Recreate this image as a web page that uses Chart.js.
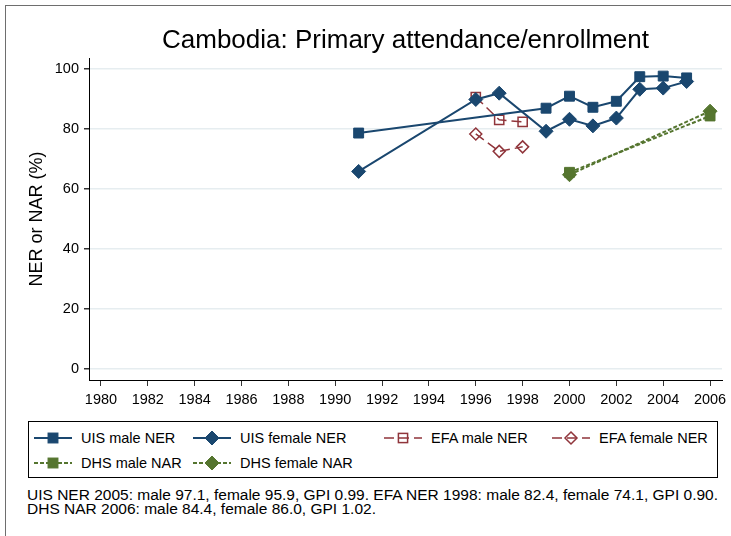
<!DOCTYPE html>
<html>
<head>
<meta charset="utf-8">
<script src="https://cdn.jsdelivr.net/npm/chart.js"></script>
<style>
  body { margin: 0; background: #fff; font-family: 'Liberation Sans', Arial, sans-serif; }
  #wrap { position: relative; width: 731px; height: 536px; overflow: hidden; background: #fff; }
  #frame { position: absolute; left: 5px; top: 5px; width: 800px; height: 600px;
           border-top: 1.5px solid #6e6e6e; border-left: 1.5px solid #6e6e6e; }
  #chart { position: absolute; left: 0; top: 0; }
  #legend { position: absolute; left: 28px; top: 421px; width: 688px; height: 55px; border: 1px solid #000; }
  .item { position: absolute; display: flex; align-items: center; font-size: 14.5px; color: #000; white-space: nowrap; }
  .item span { margin-left: 9px; }
  #note { position: absolute; left: 27px; top: 488px; font-size: 15.5px; line-height: 14px; color: #000; white-space: nowrap; }
</style>
</head>
<body>
<div id="wrap">
  <div id="frame"></div>
  <canvas id="chart" width="731" height="415"></canvas>
  <div id="legend"></div>
  <div id="note">UIS NER 2005: male 97.1, female 95.9, GPI 0.99. EFA NER 1998: male 82.4, female 74.1, GPI 0.90.<br>DHS NAR 2006: male 84.4, female 86.0, GPI 1.02.</div>
</div>
<script>
// values
const uisMaleYears = [1991, 1999, 2000, 2001, 2002, 2003, 2004, 2005];
const uisMale = [78.7, 87.0, 91.0, 87.3, 89.3, 97.5, 97.7, 97.1];
const uisFemaleYears = [1991, 1996, 1997, 1999, 2000, 2001, 2002, 2003, 2004, 2005];
const uisFemale = [65.9, 89.9, 92.0, 79.3, 83.3, 81.1, 83.7, 93.3, 93.7, 95.9];
const efaYears = [1996, 1997, 1998];
const efaMale = [90.7, 83.1, 82.4];
const efaFemale = [78.4, 72.6, 74.1];
const dhsYears = [2000, 2006];
const dhsMale = [65.6, 84.4];
const dhsFemale = [64.8, 86.0];

const xTicks = [1980, 1982, 1984, 1986, 1988, 1990, 1992, 1994, 1996, 1998, 2000, 2002, 2004, 2006];
const yTicks = [0, 20, 40, 60, 80, 100];

const navy = '#1a476f', maroon = '#90353b', green = '#55752f';
const none = 'rgba(255,255,255,0)';

Chart.defaults.font.family = "'Liberation Sans', Arial, sans-serif";
Chart.defaults.color = '#000';

const pts = (xs, ys) => xs.map((x, i) => ({ x: x, y: ys[i] }));

function series(label, xs, ys, color, style, opts) {
  return Object.assign({
    label: label,
    data: pts(xs, ys),
    borderColor: color,
    borderWidth: 2,
    borderDash: [],
    pointStyle: style,
    pointRadius: 7,
    pointBackgroundColor: color,
    pointBorderColor: color,
    pointBorderWidth: 1,
    tension: 0,
    fill: false
  }, opts || {});
}

const datasets = [
  series('UIS male NER', uisMaleYears, uisMale, navy, 'rect'),
  series('UIS female NER', uisFemaleYears, uisFemale, navy, 'rectRot', { pointRadius: 7 }),
  series('EFA male NER', efaYears, efaMale, maroon, 'rect',
    { borderWidth: 1.5, borderDash: [10, 5], pointBackgroundColor: none, pointBorderWidth: 1.5, pointRadius: 6.5 }),
  series('EFA female NER', efaYears, efaFemale, maroon, 'rectRot',
    { borderWidth: 1.5, borderDash: [10, 5], pointBackgroundColor: none, pointBorderWidth: 1.5, pointRadius: 6 }),
  series('DHS male NAR', dhsYears, dhsMale, green, 'rect', { borderDash: [4, 2] }),
  series('DHS female NAR', dhsYears, dhsFemale, green, 'rectRot', { borderDash: [4, 2] })
];

const chart = new Chart(document.getElementById('chart'), {
  type: 'line',
  data: { datasets: datasets },
  options: {
    responsive: false,
    animation: false,
    layout: { padding: { left: 0, right: 9, top: 0, bottom: 0 } },
    plugins: {
      legend: { display: false },
      tooltip: { enabled: false },
      title: {
        display: true,
        fullSize: false,
        text: 'Cambodia: Primary attendance/enrollment',
        font: { size: 26, weight: 'normal' },
        padding: { top: 25, bottom: 2 }
      }
    },
    scales: {
      x: {
        type: 'linear',
        min: 1979.49,
        max: 2006.51,
        afterBuildTicks: (s) => { s.ticks = xTicks.map(v => ({ value: v })); },
        afterFit: (s) => { s.height = 35; s.paddingLeft = 0; s.paddingRight = 0; },
        ticks: { font: { size: 14.5 }, padding: 5, maxRotation: 0, autoSkip: false, callback: v => String(v) },
        grid: { drawOnChartArea: false, tickLength: 6, tickColor: '#333' },
        border: { color: '#000', width: 1 }
      },
      y: {
        min: -3.67,
        max: 103.67,
        afterBuildTicks: (s) => { s.ticks = yTicks.map(v => ({ value: v })); },
        afterFit: (s) => { s.width = 89; s.paddingTop = 0; s.paddingBottom = 0; },
        ticks: { font: { size: 14.5 }, padding: 5 },
        grid: { color: '#e6edf0', lineWidth: 1.5, tickLength: 5, tickColor: '#333' },
        border: { color: '#000', width: 1 },
        title: { display: true, text: 'NER or NAR (%)', font: { size: 18 }, padding: { top: 26, bottom: 0 } }
      }
    }
  }
});

// legend box like Stata's, built from the datasets
const slots = [[5, 16], [164, 16], [355, 16], [523, 16], [5, 41], [164, 41]];
function symbol(ds) {
  const w = 38, h = 16, cx = 19, cy = 8;
  const dash = ds.borderDash.length ? ` stroke-dasharray="${ds.borderDash.join(',')}"` : '';
  let m;
  if (ds.pointStyle === 'rect') {
    const s = ds.pointRadius * Math.SQRT1_2;
    m = `<rect x="${cx - s}" y="${cy - s}" width="${2 * s}" height="${2 * s}"`;
  } else {
    const r = ds.pointRadius;
    m = `<polygon points="${cx},${cy - r} ${cx + r},${cy} ${cx},${cy + r} ${cx - r},${cy}"`;
  }
  m += ` fill="${ds.pointBackgroundColor}" stroke="${ds.pointBorderColor}" stroke-width="${ds.pointBorderWidth}"/>`;
  return `<svg width="${w}" height="${h}"><line x1="0" y1="${cy}" x2="${w}" y2="${cy}" stroke="${ds.borderColor}" stroke-width="${ds.borderWidth}"${dash}/>${m}</svg>`;
}
const legendEl = document.getElementById('legend');
chart.data.datasets.forEach((ds, i) => {
  const it = document.createElement('div');
  it.className = 'item';
  it.style.left = slots[i][0] + 'px';
  it.style.top = (slots[i][1] - 9) + 'px';
  it.style.height = '18px';
  it.innerHTML = symbol(ds) + '<span>' + ds.label + '</span>';
  legendEl.appendChild(it);
});
</script>
</body>
</html>
